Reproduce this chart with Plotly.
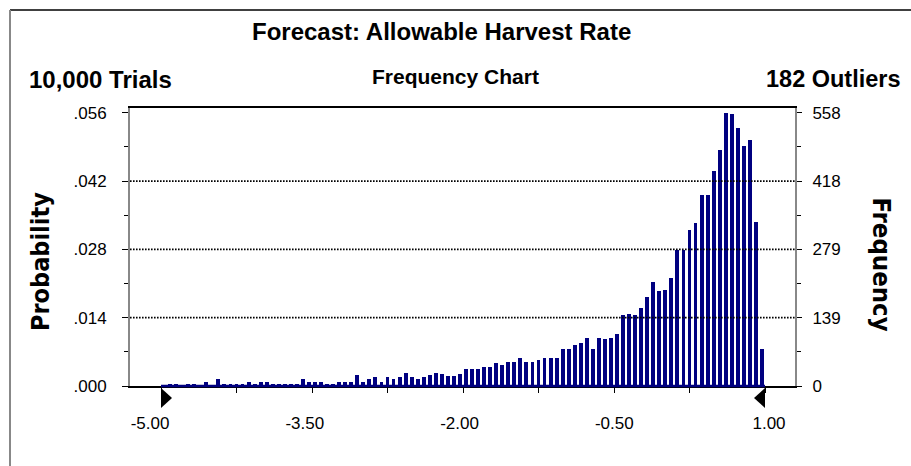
import plotly.graph_objects as go

# ---------------- data ----------------
TRIALS = 10000
OUTLIERS = 182
TITLE = "Forecast: Allowable Harvest Rate"
bin_start = -5.0
bin_width = 0.06
counts = [1, 5, 5, 1, 5, 5, 1, 9, 2, 14,
          5, 5, 4, 5, 9, 5, 9, 9, 5, 5,
          5, 5, 4, 14, 9, 9, 9, 5, 5, 9,
          9, 9, 22, 9, 14, 18, 9, 18, 14, 18,
          26, 18, 14, 18, 22, 26, 25, 21, 21, 25,
          34, 34, 34, 38, 38, 46, 42, 50, 50, 58,
          50, 50, 54, 58, 58, 58, 75, 75, 83, 87,
          99, 75, 99, 95, 99, 107, 144, 148, 144, 160,
          181, 213, 193, 196, 221, 277, 277, 318, 332, 389,
          389, 438, 481, 558, 555, 527, 491, 503, 335, 75]
grabbers = [-5.0, 1.0]
x_tick_vals = [-5.0, -4.25, -3.5, -2.75, -2.0, -1.25, -0.5, 0.25, 1.0]
x_label_vals = [-5.0, -3.5, -2.0, -0.5, 1.0]
x_label_text = ["-5.00", "-3.50", "-2.00", "-0.50", "1.00"]
freq_max = 558
freq_tick_text = ["0", "139", "279", "418", "558"]
prob_tick_text = [".000", ".014", ".028", ".042", ".056"]

# ---------------- derived ----------------
centers = [bin_start + bin_width * (i + 0.5) for i in range(len(counts))]
probs = [c / TRIALS for c in counts]
freq_tick_vals = [freq_max * k / 4 for k in range(5)]
freq_minor_vals = [freq_max * (k + 0.5) / 4 for k in range(4)]
prob_tick_vals = [v / TRIALS for v in freq_tick_vals]
prob_minor_vals = [v / TRIALS for v in freq_minor_vals]

W, H = 911, 466
L, R, T, B = 130, 116, 108, 80
pw, ph = W - L - R, H - T - B


def px(x):
    return (x - L) / pw


def py(y):
    return (H - B - y) / ph


y_top = freq_max / TRIALS * 1.0172
x_range = [-5.308, 1.298]
x_label_range = [-5.194, 1.252]

NAVY = "#000080"
FONT = "Liberation Sans, Arial, Helvetica, sans-serif"

fig = go.Figure()
fig.add_trace(go.Bar(x=centers, y=probs, width=bin_width * 0.64,
                     marker=dict(color=NAVY, line=dict(width=0)),
                     showlegend=False, hoverinfo="x+y"))
fig.add_trace(go.Scatter(x=[None], y=[None], xaxis="x2", yaxis="y",
                         showlegend=False, hoverinfo="skip"))
fig.add_trace(go.Scatter(x=[None], y=[None], xaxis="x", yaxis="y2",
                         showlegend=False, hoverinfo="skip"))

# dotted gridlines at interior ticks
for v in freq_tick_vals[1:-1]:
    fig.add_shape(type="line", xref="paper", x0=0, x1=1, yref="y2", y0=v, y1=v,
                  line=dict(color="black", width=1.8, dash="1.6px,1.4px"))

# navy baseline over the data range
fig.add_shape(type="line", xref="x", x0=grabbers[0], x1=grabbers[1],
              yref="paper", y0=0, y1=0, line=dict(color=NAVY, width=2.5))

# certainty grabbers (triangles)
fig.add_shape(type="path", xref="x", yref="paper", xsizemode="pixel", ysizemode="pixel",
              xanchor=grabbers[0], yanchor=0, path="M 0,-2 L 11,-12 L 0,-22 Z",
              fillcolor="black", line=dict(width=0))
fig.add_shape(type="path", xref="x", yref="paper", xsizemode="pixel", ysizemode="pixel",
              xanchor=grabbers[1], yanchor=0, path="M 0,-2 L -11,-12 L 0,-22 Z",
              fillcolor="black", line=dict(width=0))

# outer frame
fig.add_shape(type="line", xref="paper", yref="paper", x0=px(10), x1=px(W + 5),
              y0=py(10), y1=py(10), line=dict(color="black", width=1.5))
fig.add_shape(type="line", xref="paper", yref="paper", x0=px(10), x1=px(10),
              y0=py(10), y1=py(H + 5), line=dict(color="#888888", width=2))

ann = []


def text(s, x, y, size, xanchor="center", angle=0, family=FONT):
    ann.append(dict(text=s, x=px(x), y=py(y), xref="paper", yref="paper",
                    xanchor=xanchor, yanchor="middle", showarrow=False,
                    textangle=angle, font=dict(family=family, size=size, color="black")))


text("<b>" + TITLE + "</b>", 441, 31.5, 24)
text("<b>{:,} Trials</b>".format(TRIALS), 27, 79, 24, xanchor="left")
text("<b>Frequency Chart</b>", 455, 76, 21)
text("<b>{} Outliers</b>".format(OUTLIERS), 903, 79, 23.5, xanchor="right")
text("<b>Probability</b>", 40, 262, 25, angle=-90, family="DejaVu Sans Condensed, DejaVu Sans")
text("<b>Frequency</b>", 882, 264.5, 25.5, angle=90, family="DejaVu Sans Condensed, DejaVu Sans")

tickfont = dict(family=FONT, size=17, color="black")

fig.update_layout(
    width=W, height=H, autosize=False,
    margin=dict(l=L, r=R, t=T, b=B, pad=0),
    paper_bgcolor="white", plot_bgcolor="white",
    annotations=ann, bargap=0,
    xaxis=dict(range=x_range, tickvals=x_tick_vals, ticktext=[""] * len(x_tick_vals),
               ticks="outside", ticklen=5, tickwidth=1, tickcolor="black",
               showline=True, linecolor="black", linewidth=1.5, mirror=True,
               showgrid=False, zeroline=False, fixedrange=True),
    xaxis2=dict(overlaying="x", anchor="y", side="bottom", range=x_label_range,
                tickvals=x_label_vals, ticktext=x_label_text, ticks="",
                showline=False, showgrid=False, zeroline=False,
                tickfont=tickfont, ticklabelstandoff=25, fixedrange=True),
    yaxis=dict(range=[0, y_top], tickvals=prob_tick_vals, ticktext=prob_tick_text,
               ticks="outside", ticklen=6, tickwidth=1, tickcolor="black",
               minor=dict(tickvals=prob_minor_vals, ticks="outside", ticklen=4,
                          tickwidth=1, tickcolor="black", showgrid=False),
               showline=True, linecolor="#888888", linewidth=2,
               showgrid=False, zeroline=False, tickfont=tickfont,
               ticklabelstandoff=12, fixedrange=True),
    yaxis2=dict(overlaying="y", side="right", anchor="x", range=[0, y_top * TRIALS],
                tickvals=freq_tick_vals, ticktext=freq_tick_text,
                ticks="outside", ticklen=5, tickwidth=1, tickcolor="black",
                minor=dict(tickvals=freq_minor_vals, ticks="outside", ticklen=4,
                           tickwidth=1, tickcolor="black", showgrid=False),
                showline=True, linecolor="#888888", linewidth=2,
                showgrid=False, zeroline=False, tickfont=tickfont,
                ticklabelstandoff=7, fixedrange=True),
)

fig.write_html("out.html", config={"displayModeBar": False},
               post_script="document.body.style.margin='0px';")
